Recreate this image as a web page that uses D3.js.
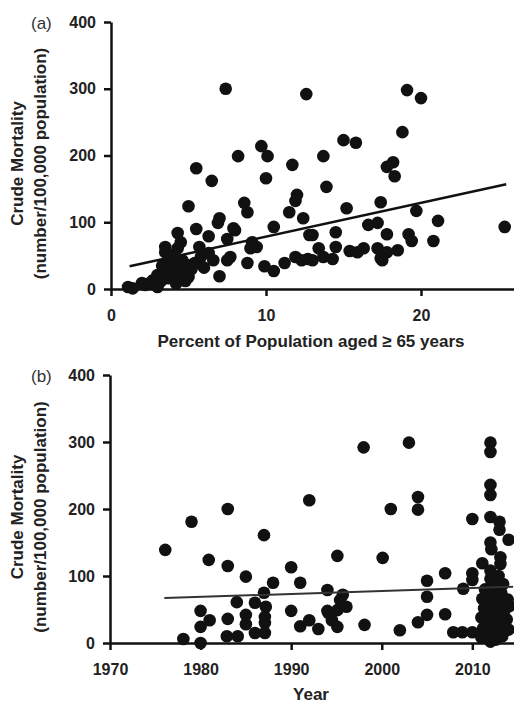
<!DOCTYPE html>
<html>
<head>
<script src="https://d3js.org/d3.v7.min.js"></script>
<style>
  body { margin: 0; background: #fff; font-family: "Liberation Sans", Arial, sans-serif; }
  .axis path, .axis line { stroke: #111; stroke-width: 2.5px; }
  .axis text { font-family: "Liberation Sans", Arial, sans-serif; font-size: 16px; font-weight: bold; fill: #222; }
  .dot { fill: #111; }
  .fit { fill: none; }
  .title { font-size: 17px; font-weight: bold; fill: #222; }
  .plabel { font-size: 17px; fill: #333; }
</style>
</head>
<body>
<script>
// panel (a): percent aged >= 65 vs crude mortality
var ageA = [7.4,12.6,19.1,20.0,18.8,15.0,15.8,9.7,10.1,8.2,13.7,18.2,17.8,18.3,5.5,11.7,6.5,10.0,13.9,5.0,
  12.0,11.9,8.6,8.8,11.5,12.4,15.2,17.4,19.7,21.1,25.4,7.0,6.9,5.5,7.9,10.5,16.6,17.2,8.0,4.3,
  6.3,7.5,12.8,13.0,14.5,17.8,19.2,19.4,20.8,3.5,4.5,5.7,9.1,9.4,9.0,6.3,6.6,7.7,7.5,5.4,
  8.8,9.9,10.5,11.2,11.9,12.3,12.7,13.4,13.0,13.7,14.3,14.5,15.4,15.9,16.3,17.2,17.4,17.8,17.5,18.5,
  7.0,1.1,1.4,2.0,2.2,2.5,2.7,3.0,3.2,3.0,3.4,3.7,3.9,4.0,4.3,4.5,4.6,4.9,5.0,4.6,
  3.7,3.5,4.3,3.8,4.1,4.8,5.2,4.2,3.3,5.8,6.0];
var mortA = [300,292,298,286,235,223,219,214,199,199,199,190,183,169,181,186,162,166,153,124,
  141,132,129,115,115,106,121,130,117,102,93,106,99,90,91,93,96,99,88,84,
  79,75,81,81,85,82,82,72,72,63,70,63,70,63,61,54,43,48,43,39,
  39,34,27,39,48,43,45,61,43,48,45,63,57,55,61,61,46,55,43,58,
  19,3,1,9,6,9,13,21,11,3,25,31,40,51,21,31,21,36,18,43,
  16,55,61,45,28,12,30,8,35,48,32];
var fitA = [[1.2, 34], [25.5, 157]];

// panel (b): year vs crude mortality
var yearB = [1976.1,1979.0,1983.0,1992.0,1987.0,1980.9,1983.0,1985.0,1990.0,1988.0,1991.0,1987.0,1984.0,1986.0,1987.2,
  1980.0,1981.0,1980.0,1983.0,1985.0,1985.0,1987.1,1987.1,1986.0,1987.1,1982.9,1984.1,1978.1,1980.0,1990.0,
  1991.0,1992.0,1993.0,1994.0,1994.0,1995.1,2000.1,1995.4,1995.7,1995.1,1994.1,1994.5,1995.1,1996.1,1998.1,
  2002.0,2004.0,2005.0,2005.0,2005.0,2007.0,2007.0,2009.0,2010.0,2010.0,2011.1,2007.9,2008.9,2010.0,1998.0,
  2003.0,2012.0,2012.0,2012.0,2012.0,2004.0,2004.0,2001.0,2010.0,2012.0,2013.0,2013.0,2014.0,2013.1,2013.1,
  2011.0,2011.2,2011.0,2011.3,2011.1,2011.4,
  2012.0,2012.1,2011.9,2012.0,2012.2,2011.9,2012.0,2012.1,2012.0,2012.0,2012.1,2012.0,
  2012.6,2012.8,2012.5,2012.7,2012.9,2012.6,2012.8,2012.7,2012.9,
  2013.3,2013.2,2013.4,2013.3,2013.2,2013.4,2013.6,2013.8,2013.9,2014.0,2014.1];
var mortB = [139,181,200,213,161,124,115,99,113,90,90,75,61,60,54,
  48,34,24,36,42,28,39,30,15,15,10,10,6,0,48,
  25,34,21,48,79,130,127,64,72,49,45,34,24,54,27,
  19,31,42,69,93,104,43,81,104,94,119,16,16,16,292,
  299,299,285,236,221,218,199,200,185,188,181,169,154,128,118,
  8,22,38,52,66,80,
  2,12,25,35,45,58,70,84,96,108,140,150,
  5,18,30,42,55,65,78,90,100,
  10,28,40,60,75,88,50,35,65,20,55];
var fitB = [[1976, 67], [2014.5, 84]];

var yTicks = [0, 100, 200, 300, 400];
var xTicksA = [0, 10, 20];
var xTicksB = [1970, 1980, 1990, 2000, 2010];

var svg = d3.select("body").append("svg")
    .attr("width", 514)
    .attr("height", 704);

function drawPanel(p) {
    var x = d3.scaleLinear().domain(p.xDomain).range([p.left, 514]);
    var y = d3.scaleLinear().domain([0, 400]).range([p.bottom, p.top]);
    var g = svg.append("g");

    g.append("g")
        .attr("class", "axis")
        .attr("transform", "translate(0," + p.bottom + ")")
        .call(d3.axisBottom(x).tickValues(p.xTicks).tickFormat(d3.format("d"))
            .tickSize(7).tickSizeOuter(0).tickPadding(14));

    g.append("g")
        .attr("class", "axis")
        .attr("transform", "translate(" + p.left + ",0)")
        .call(d3.axisLeft(y).tickValues(yTicks).tickSize(7).tickSizeOuter(0).tickPadding(8));

    g.selectAll(".dot")
        .data(p.xs.map(function(d, i) { return [d, p.ys[i]]; }))
        .enter().append("circle")
        .attr("class", "dot")
        .attr("cx", function(d) { return x(d[0]); })
        .attr("cy", function(d) { return y(d[1]); })
        .attr("r", 6.3);

    g.append("path")
        .datum(p.fit)
        .attr("class", "fit")
        .attr("stroke", p.fitColor)
        .attr("stroke-width", p.fitWidth)
        .attr("d", d3.line().x(function(d) { return x(d[0]); }).y(function(d) { return y(d[1]); }));

    // axis titles
    var cy = (p.top + p.bottom) / 2 + 8;
    g.append("text")
        .attr("class", "title")
        .attr("text-anchor", "middle")
        .attr("transform", "translate(23," + cy + ") rotate(-90)")
        .text("Crude Mortality");
    g.append("text")
        .attr("class", "title")
        .attr("text-anchor", "middle")
        .attr("transform", "translate(46," + cy + ") rotate(-90)")
        .text("(number/100,000 population)");
    g.append("text")
        .attr("class", "title")
        .attr("text-anchor", "middle")
        .attr("x", 311)
        .attr("y", p.xTitleY)
        .text(p.xTitle);
    g.append("text")
        .attr("class", "plabel")
        .attr("x", 31)
        .attr("y", p.top + 7)
        .text(p.label);
}

drawPanel({
    xs: ageA, ys: mortA, fit: fitA, xDomain: [0, 26], xTicks: xTicksA,
    left: 111, top: 22, bottom: 289, xTitle: "Percent of Population aged \u2265 65 years",
    xTitleY: 347, label: "(a)", fitColor: "#111", fitWidth: 2.5
});
drawPanel({
    xs: yearB, ys: mortB, fit: fitB, xDomain: [1970, 2014.6], xTicks: xTicksB,
    left: 110, top: 375, bottom: 643, xTitle: "Year",
    xTitleY: 700, label: "(b)", fitColor: "#333", fitWidth: 2
});
</script>
</body>
</html>
